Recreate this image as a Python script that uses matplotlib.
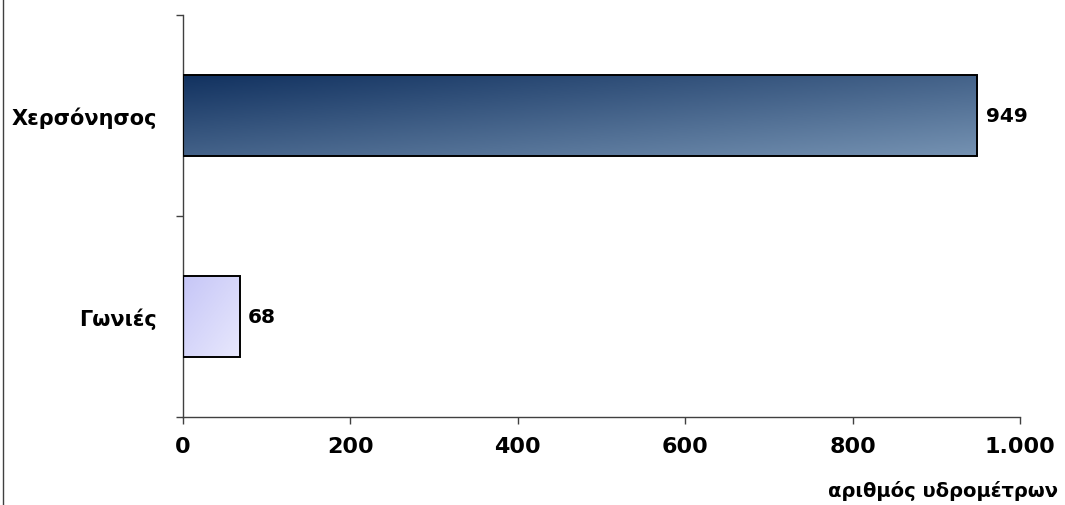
import numpy as np
import matplotlib.pyplot as plt
from matplotlib.colors import LinearSegmentedColormap
from matplotlib.lines import Line2D

categories = ['Γωνιές', 'Χερσόνησος']
values = [68, 949]
xticks = [0, 200, 400, 600, 800, 1000]
xtick_labels = ['0', '200', '400', '600', '800', '1.000']
xlabel = 'αριθμός υδρομέτρων'

# gradient ends per bar (top-left -> bottom-right)
grad_colors = [('#c6c6f7', '#e8e8fd'), ('#123260', '#7592b2')]

plt.rcParams['font.family'] = ['DejaVu Sans']
plt.rcParams['font.weight'] = 'bold'

fig = plt.figure(figsize=(10.65, 5.06), dpi=100)
ax = fig.add_axes([183 / 1065, 88 / 506, 837 / 1065, 402 / 506])

bar_h = 0.4
ypos = np.arange(len(categories))
bars = ax.barh(ypos, values, height=bar_h, color='none',
               edgecolor='black', linewidth=1.4, zorder=3)

# diagonal gradient fill, clipped to each bar
xx, yy = np.meshgrid(np.linspace(0, 1, 200), np.linspace(0, 1, 60))
grad = 0.5 * xx + 0.5 * yy
for bar, (c0, c1) in zip(bars, grad_colors):
    cmap = LinearSegmentedColormap.from_list('g', [c0, c1])
    x0, y0 = bar.get_x(), bar.get_y()
    w, h = bar.get_width(), bar.get_height()
    im = ax.imshow(grad, cmap=cmap, aspect='auto', origin='upper',
                   extent=[x0, x0 + w, y0, y0 + h], zorder=2)
    im.set_clip_path(bar)

for y, v in zip(ypos, values):
    ax.annotate(str(v), (v, y), xytext=(6, 0), textcoords='offset points',
                va='center', ha='left', fontsize=14.5, fontweight='bold')

ax.set_xlim(0, 1000)
ax.set_ylim(-0.5, len(categories) - 0.5)
ax.set_xticks(xticks)
ax.set_xticklabels(xtick_labels, fontsize=16, fontweight='bold')
ax.set_yticks(ypos)
ax.set_yticklabels(categories, fontsize=15, fontweight='bold')
ax.set_yticks(np.arange(-0.5, len(categories)), minor=True)
ax.tick_params(axis='y', which='major', length=0, pad=19)
ax.tick_params(axis='y', which='minor', length=5, color='#404040', width=1)
ax.tick_params(axis='x', length=5, color='#404040', width=1, pad=9)

for s in ['top', 'right']:
    ax.spines[s].set_visible(False)
for s in ['left', 'bottom']:
    ax.spines[s].set_color('#404040')
    ax.spines[s].set_linewidth(1)

fig.text(1058 / 1065, 1 - 491 / 506, xlabel, ha='right', va='center',
         fontsize=14, fontweight='bold')

fig.add_artist(Line2D([3 / 1065, 3 / 1065], [0, 1], color='#404040', lw=1))

fig.savefig('out.png', dpi=100)
